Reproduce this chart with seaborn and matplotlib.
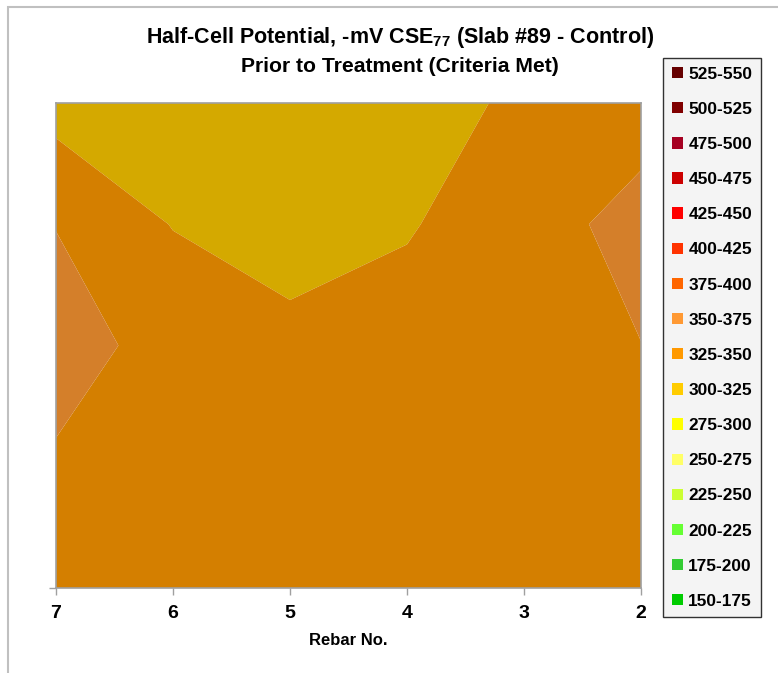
import numpy as np
import matplotlib
matplotlib.use("Agg")
import matplotlib.pyplot as plt
from matplotlib.patches import Patch, Rectangle
import seaborn as sns

# Rebar positions (left to right as plotted) and grid rows (top to bottom)
rebar_no = [7, 6, 5, 4, 3, 2]
row_pos = [4, 3, 2, 1, 0]

# Half-cell potential readings, -mV CSE, one row per grid line
row_a = [315, 316, 310, 318, 328, 340]
row_b = [349.5, 324, 315, 323, 340, 358]
row_c = [358, 343, 331, 335, 340, 349.7]
row_d = [347.5, 340, 338, 336, 342, 345]
row_e = [338, 335, 340, 337, 343, 340]

# Legend bands and their colours
band_labels = ["525-550", "500-525", "475-500", "450-475", "425-450", "400-425",
               "375-400", "350-375", "325-350", "300-325", "275-300", "250-275",
               "225-250", "200-225", "175-200", "150-175"]
band_colors = ["#660000", "#800000", "#A50021", "#CC0000", "#FF0000", "#FF3300",
               "#FF6600", "#FF9933", "#FF9900", "#FFCC00", "#FFFF00", "#FFFF66",
               "#CCFF33", "#66FF33", "#33CC33", "#00CC00"]

sns.set_theme(style="white")
plt.rcParams["font.family"] = ["Liberation Sans", "DejaVu Sans"]
plt.rcParams["mathtext.fontset"] = "custom"
plt.rcParams["mathtext.bf"] = "Liberation Sans:bold"
plt.rcParams["mathtext.rm"] = "Liberation Sans"
plt.rcParams["text.color"] = "black"
plt.rcParams["axes.labelcolor"] = "black"
plt.rcParams["xtick.labelcolor"] = "black"

fig = plt.figure(figsize=(7.78, 6.73), dpi=100)
W, H = 778, 673
ax = fig.add_axes([56 / W, 1 - 588 / H, (641 - 56) / W, (588 - 103) / H])

Z = np.array([row_a, row_b, row_c, row_d, row_e])
X, Y = np.meshgrid(rebar_no, row_pos)

levels = np.arange(150, 551, 25)
pal = sns.color_palette(band_colors[::-1])
shade = 0.83
fill_colors = [tuple(c * shade for c in rgb) for rgb in pal]
ax.contourf(X, Y, Z, levels=levels, colors=fill_colors, antialiased=True)

ax.set_xlim(7, 2)
ax.set_ylim(0, 4)
ax.set_xticks(rebar_no)
ax.set_xticklabels([str(v) for v in rebar_no], fontsize=14, fontweight="bold")
ax.set_yticks([0])
ax.set_yticklabels([""])
ax.tick_params(axis="x", direction="out", length=5, width=1, color="#A0A0A0", pad=7, bottom=True)
ax.tick_params(axis="y", direction="out", length=5, width=1, color="#A0A0A0", left=True)
for s in ax.spines.values():
    s.set_color("#A0A0A0")
    s.set_linewidth(1.2)
ax.set_xlabel("Rebar No.", fontsize=12, fontweight="bold", labelpad=8)

fig.text(400 / W, 1 - 37 / H,
         r"Half-Cell Potential, -mV CSE$_{\mathbf{77}}$ (Slab #89 - Control)",
         ha="center", va="center", fontsize=15.5, fontweight="bold")
fig.text(400 / W, 1 - 67 / H, "Prior to Treatment (Criteria Met)",
         ha="center", va="center", fontsize=15.2, fontweight="bold")

handles = [Patch(facecolor=c, edgecolor="none") for c in band_colors]
leg = fig.legend(handles, band_labels, loc="upper left",
                 bbox_to_anchor=(663 / W, 1 - 58 / H), borderaxespad=0,
                 prop={"weight": "bold", "size": 12.4},
                 handlelength=0.64, handleheight=0.64, handletextpad=0.33,
                 labelspacing=1.17, borderpad=0.5, frameon=True, fancybox=False)
leg.get_frame().set_facecolor("#F2F2F2")
leg.get_frame().set_edgecolor("black")
leg.get_frame().set_linewidth(1.0)

# Outer chart border
fig.patches.append(Rectangle((8 / W, -0.1), 2.0, 1.1 - 7 / H, transform=fig.transFigure,
                             fill=False, edgecolor="#C0C0C0", linewidth=1.5))

fig.savefig("out.png", dpi=100)
